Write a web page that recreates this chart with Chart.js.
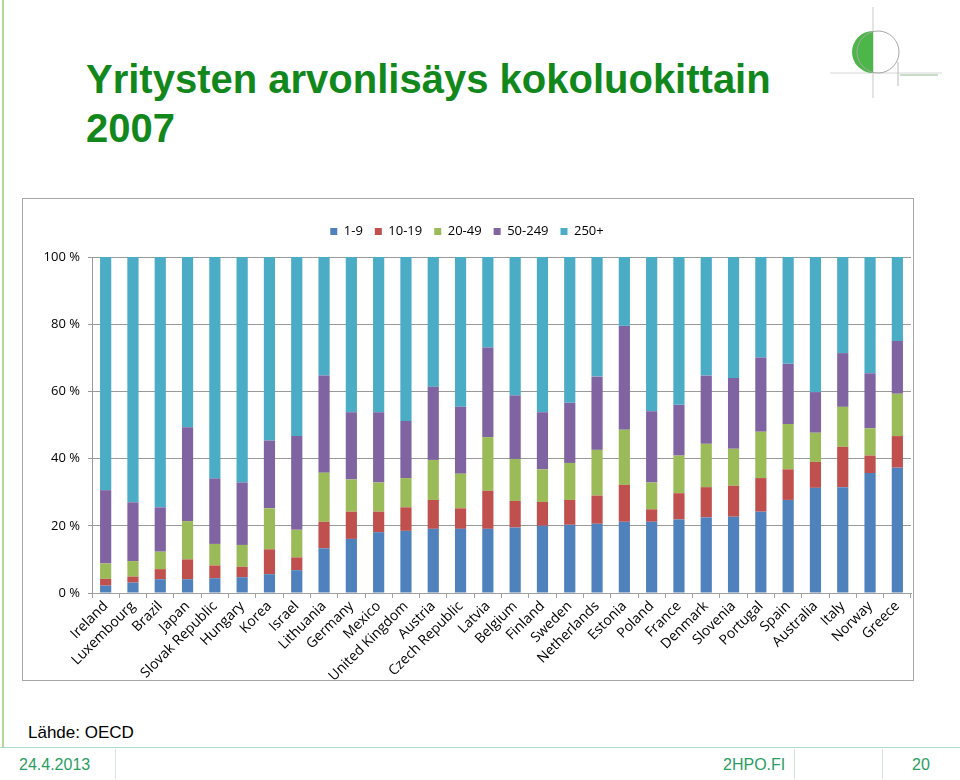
<!DOCTYPE html>
<html>
<head>
<meta charset="utf-8">
<script src="https://cdn.jsdelivr.net/npm/chart.js@4.4.1/dist/chart.umd.min.js"></script>
<style>
  html, body { margin: 0; padding: 0; background: #fff; }
  body { width: 960px; height: 780px; position: relative; overflow: hidden; font-family: 'Liberation Sans', Arial, sans-serif; }
  .leftbar { position: absolute; left: 2px; top: 0; width: 2px; height: 748px; background: #b3d69a; }
  .title { position: absolute; left: 86px; top: 55px; margin: 0; color: #12871c; font: bold 40px/49px 'Liberation Sans', Arial, sans-serif; }
  .chartbox { position: absolute; left: 22px; top: 198px; width: 890px; height: 481px; border: 1px solid #a6a6a6; }
  .source { position: absolute; left: 28px; top: 723px; font-size: 17px; color: #000; }
  .footline { position: absolute; left: 0; top: 747px; width: 960px; height: 1px; background: #a9dcc6; }
  .sep { position: absolute; top: 749px; width: 1px; height: 30px; background: #cfe6dc; }
  .foot { position: absolute; top: 756px; font-size: 16px; color: #2a9d63; }
  .logo { position: absolute; left: 826px; top: 4px; }
</style>
</head>
<body>
<div class="leftbar"></div>
<h1 class="title">Yritysten arvonlisäys kokoluokittain<br>2007</h1>
<svg class="logo" width="120" height="100" viewBox="826 4 120 100">
  <line x1="873" y1="7" x2="873" y2="98" stroke="#c8c8c8" stroke-width="1"/>
  <line x1="830" y1="73" x2="942" y2="73" stroke="#d6d6d6" stroke-width="1"/>
  <line x1="898" y1="62" x2="898" y2="86" stroke="#bbb" stroke-width="1"/>
  <path d="M873 31 A21 21 0 0 0 873 73 Z" fill="#4db648"/>
  <circle cx="878" cy="52" r="21" fill="none" stroke="#a8a8a8" stroke-width="1"/>
  <line x1="900" y1="75" x2="938" y2="75" stroke="#b5d3b3" stroke-width="1.5"/>
</svg>
<div class="chartbox"><canvas id="c"></canvas></div>
<div class="source">Lähde: OECD</div>
<div class="footline"></div>
<div class="sep" style="left:115px"></div>
<div class="sep" style="left:794px"></div>
<div class="sep" style="left:882px"></div>
<div class="foot" style="left:19px">24.4.2013</div>
<div class="foot" style="left:723px">2HPO.FI</div>
<div class="foot" style="left:912px">20</div>
<script>
const countries = ['Ireland', 'Luxembourg', 'Brazil', 'Japan', 'Slovak Republic', 'Hungary', 'Korea', 'Israel',
  'Lithuania', 'Germany', 'Mexico', 'United Kingdom', 'Austria', 'Czech Republic', 'Latvia', 'Belgium',
  'Finland', 'Sweden', 'Netherlands', 'Estonia', 'Poland', 'France', 'Denmark', 'Slovenia', 'Portugal',
  'Spain', 'Australia', 'Italy', 'Norway', 'Greece'];

// share of value added by size class, %
const size1to9 = [2.2, 3.1, 4.1, 4.1, 4.4, 4.7, 5.6, 6.8, 13.3, 16.1, 18.1, 18.5, 19.1, 19.1, 19.1, 19.5,
  20.0, 20.3, 20.6, 21.2, 21.2, 21.9, 22.5, 22.7, 24.2, 27.7, 31.3, 31.5, 35.7, 37.3];
const size10to19 = [2.0, 1.8, 3.0, 5.9, 3.8, 3.1, 7.4, 3.8, 7.9, 8.1, 6.1, 7.0, 8.6, 6.1, 11.3, 7.9,
  7.1, 7.4, 8.4, 11.0, 3.7, 7.8, 9.0, 9.2, 10.0, 9.1, 7.7, 12.0, 5.2, 9.4];
const size20to49 = [4.6, 4.6, 5.2, 11.4, 6.4, 6.5, 12.2, 8.2, 14.6, 9.6, 8.7, 8.7, 11.9, 10.3, 16.0, 12.5,
  9.7, 11.0, 13.6, 16.4, 8.0, 11.2, 12.9, 11.0, 13.8, 13.5, 8.7, 11.9, 8.1, 12.6];
const size50to249 = [21.8, 17.5, 13.2, 27.9, 19.5, 18.6, 20.2, 27.9, 28.9, 20.0, 20.9, 17.0, 21.8, 19.9, 26.7, 18.9,
  17.0, 17.9, 21.8, 30.9, 21.2, 15.1, 20.3, 21.1, 22.1, 17.9, 12.1, 16.0, 16.4, 15.7];
const size250plus = [69.4, 73.0, 74.5, 50.7, 65.9, 67.1, 54.6, 53.3, 35.3, 46.2, 46.2, 48.8, 38.6, 44.6, 26.9, 41.2,
  46.2, 43.4, 35.6, 20.5, 45.9, 44.0, 35.3, 36.0, 29.9, 31.8, 40.2, 28.6, 34.6, 25.0];

const seriesNames = ['1-9', '10-19', '20-49', '50-249', '250+'];
const seriesColors = ['#4f81bd', '#c0504d', '#9bbb59', '#8064a2', '#4bacc6'];
const seriesData = [size1to9, size10to19, size20to49, size50to249, size250plus];

const yTicks = [0, 20, 40, 60, 80, 100];
const smallFont = { family: "'Open Sans', sans-serif", size: 13 };
const labelFont = { family: "'Open Sans', sans-serif", size: 14 };

// fixes legend height so the plot starts where the reference one does
const legendSpace = {
  id: 'legendSpace',
  beforeInit(chart) {
    const fit = chart.legend.fit;
    chart.legend.fit = function () { fit.call(this); this.height = 44; };
  }
};

new Chart(document.getElementById('c'), {
  type: 'bar',
  data: {
    labels: countries,
    datasets: seriesNames.map((name, i) => ({
      label: name,
      data: seriesData[i],
      backgroundColor: seriesColors[i],
      borderWidth: 0,
      categoryPercentage: 1,
      barPercentage: 0.41
    }))
  },
  options: {
    responsive: true,
    maintainAspectRatio: false,
    animation: false,
    devicePixelRatio: 1,
    layout: { padding: { top: 14, left: 0, right: 2, bottom: 0 } },
    plugins: {
      tooltip: { enabled: false },
      legend: {
        position: 'top',
        labels: { boxWidth: 7, boxHeight: 7, padding: 12, color: '#000', font: smallFont }
      }
    },
    scales: {
      x: {
        stacked: true,
        afterFit: s => { s.height = 87; },
        grid: { offset: true, drawOnChartArea: false, drawTicks: true, tickLength: 5, color: '#a0a0a0' },
        border: { color: '#a0a0a0' },
        ticks: { minRotation: 45, maxRotation: 45, autoSkip: false, color: '#000', font: labelFont, padding: 0 }
      },
      y: {
        stacked: true,
        min: 0,
        max: 100,
        afterBuildTicks: s => { s.ticks = yTicks.map(v => ({ value: v })); },
        afterFit: s => { s.width = 69; },
        grid: { color: '#9a9a9a', tickLength: 4 },
        border: { color: '#9a9a9a' },
        ticks: { color: '#000', font: smallFont, padding: 8, callback: v => v + ' %' }
      }
    }
  },
  plugins: [legendSpace]
});
</script>
</body>
</html>
